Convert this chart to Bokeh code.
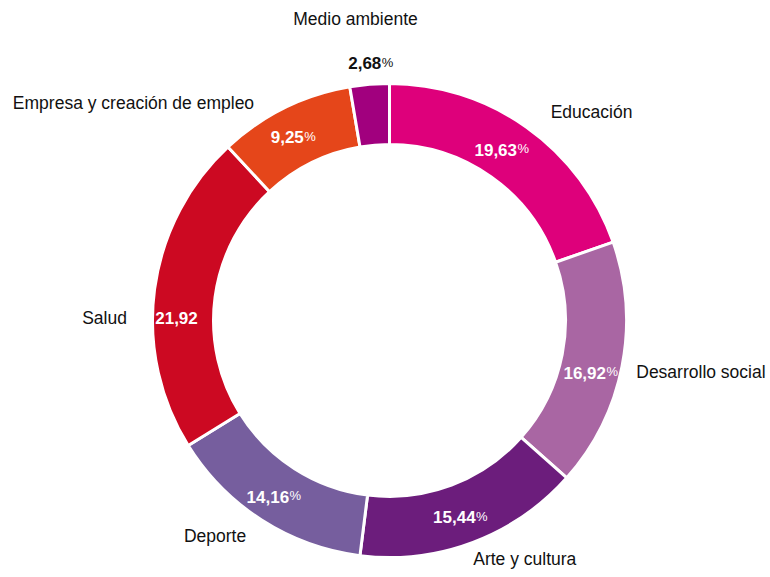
import math
from bokeh.plotting import figure
from bokeh.models import Range1d, ColumnDataSource
from bokeh.core.properties import value
from bokeh.embed import file_html
from bokeh.resources import INLINE

# ---- data ----
categories = ["Educación", "Desarrollo social", "Arte y cultura", "Deporte",
              "Salud", "Empresa y creación de empleo", "Medio ambiente"]
shares = [19.63, 16.92, 15.44, 14.16, 21.92, 9.25, 2.68]
pct_sign = ["%", "%", "%", "%", "", "%", "%"]

# ---- styles / layout ----
colors = ["#DE007B", "#A966A3", "#6C1D7C", "#765E9E", "#CC0922", "#E5461A", "#A1007E"]
value_color = ["white", "white", "white", "white", "white", "white", "#111111"]
cat_nudge = [-8.7, 1.8, 8.9, -6.4, 7.0, 23.3, 1.6]
cat_radius = [290.7, 315.6, 274.5, 276.9, 285.0, 336.2, 303.9]
val_nudge = [2.1, -3.4, -0.9, -0.7, 6.8, 1.5, -0.6]
val_radius = [204.4, 207.6, 209.2, 210.8, 213.0, 206.9, 257.7]

FONT = "Liberation Sans"
W, H = 770, 577
CX, CY = 389, -320
R_OUT, R_IN = 237, 176

p = figure(width=W, height=H, output_backend="svg", toolbar_location=None,
           x_range=Range1d(0, W), y_range=Range1d(-H, 0),
           x_axis_type=None, y_axis_type=None, min_border=0)
p.outline_line_color = None
p.background_fill_color = "white"
p.border_fill_color = "white"

total = sum(shares)
starts, ends, mids = [], [], []
cum = 0.0
for s in shares:
    a0 = 90 - cum / total * 360
    cum += s
    a1 = 90 - cum / total * 360
    starts.append(math.radians(a1))
    ends.append(math.radians(a0))
    mids.append((a0 + a1) / 2)

src = ColumnDataSource(dict(start=starts, end=ends, color=colors, cat=categories))
p.annular_wedge(x=CX, y=CY, inner_radius=R_IN, outer_radius=R_OUT,
                start_angle="start", end_angle="end", fill_color="color",
                line_color="white", line_width=3, source=src)

# category labels
cx_l, cy_l = [], []
for m, n, r in zip(mids, cat_nudge, cat_radius):
    a = math.radians(m + n)
    cx_l.append(CX + r * math.cos(a))
    cy_l.append(CY + r * math.sin(a))
p.text(x=cx_l, y=cy_l, text=categories, text_font=value(FONT),
       text_font_size="17.5px", text_align="center", text_baseline="middle",
       text_color="#111111")

# value labels: bold number + small regular % sign
def num_width(t):
    w = 0
    for ch in t:
        w += 4.7 if ch == "," else 9.45
    return w

nx, ny, ntext, px_, ptext = [], [], [], [], []
for m, n, r, v, sgn in zip(mids, val_nudge, val_radius, shares, pct_sign):
    a = math.radians(m + n)
    x = CX + r * math.cos(a)
    y = CY + r * math.sin(a)
    t = f"{v:.2f}".replace(".", ",")
    wn = num_width(t)
    wp = 11.5 if sgn else 0.0
    xr = x + (wn - wp) / 2
    nx.append(xr); ny.append(y); ntext.append(t)
    px_.append(xr + 0.5); ptext.append(sgn)

p.text(x=nx, y=ny, text=ntext, text_font=value(FONT), text_font_style="bold",
       text_font_size="17px", text_align="right", text_baseline="middle",
       text_color=value_color)
p.text(x=px_, y=[y + 1 for y in ny], text=ptext, text_font=value(FONT),
       text_font_size="13px", text_align="left", text_baseline="middle",
       text_color=value_color)

open("out.html", "w").write(file_html(p, INLINE))
